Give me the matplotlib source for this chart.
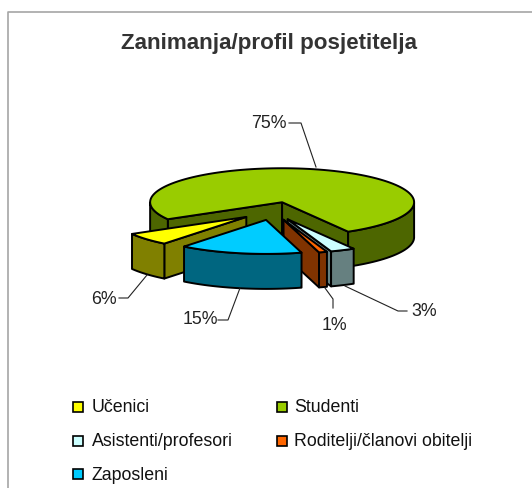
import matplotlib
matplotlib.use("Agg")
import matplotlib.pyplot as plt
from matplotlib.patches import Polygon, Rectangle
import numpy as np

plt.rcParams['font.family'] = ['Liberation Sans', 'DejaVu Sans']

title = "Zanimanja/profil posjetitelja"
categories = ["Učenici", "Studenti", "Asistenti/profesori", "Roditelji/članovi obitelji", "Zaposleni"]
values = [6, 75, 3, 1, 15]
labels = ["6%", "75%", "3%", "1%", "15%"]
top_colors = ["#ffff00", "#99cc00", "#ccffff", "#ff6600", "#00ccff"]
side_colors = ["#808000", "#4d6600", "#668080", "#803300", "#006680"]

# pie geometry in pixels
cx, cy = 273, 212
a, b = 132, 34
depth = 35
explode = 0.267
first_angle = 218.4


def pt(theta, ox, oy, r=1.0):
    t = np.radians(theta)
    return ox + r * a * np.sin(t), oy - r * b * np.cos(t)


fig = plt.figure(figsize=(5.32, 4.89), dpi=100)
ax = fig.add_axes([0, 0, 1, 1])
ax.set_xlim(0, 532)
ax.set_ylim(489, 0)
ax.axis("off")

ax.plot([8, 8, 532], [489, 13, 13], color="#a6a6a6", lw=1.2)

# work out the angle span of each slice
spans = []
start = first_angle
for v in values:
    spans.append((start, start + v * 3.6))
    start += v * 3.6

lw = 1.4
# back to front
for i in [1, 0, 2, 3, 4]:
    t0, t1 = spans[i]
    mid = (t0 + t1) / 2
    ox, oy = pt(mid, cx, cy, explode)
    th = np.linspace(t0, t1, 120)
    xs = ox + a * np.sin(np.radians(th))
    ys = oy - b * np.cos(np.radians(th))

    # the cut walls, only those facing us
    walls = []
    if np.sin(np.radians(t0)) < 0:
        walls.append(t0)
    if np.sin(np.radians(t1)) > 0:
        walls.append(t1)
    for t in walls:
        ex, ey = pt(t, ox, oy)
        ax.add_patch(Polygon([(ox, oy), (ex, ey), (ex, ey + depth), (ox, oy + depth)],
                             fc=side_colors[i], ec="black", lw=lw, joinstyle="round"))
    # outer wall, only the part facing us
    m = np.cos(np.radians(th)) < 0
    if m.any():
        idx = np.where(m)[0]
        groups = np.split(idx, np.where(np.diff(idx) > 1)[0] + 1)
        for g in groups:
            top = np.column_stack([xs[g], ys[g]])
            bot = np.column_stack([xs[g], ys[g] + depth])[::-1]
            ax.add_patch(Polygon(np.vstack([top, bot]), fc=side_colors[i], ec="black",
                                 lw=lw, joinstyle="round"))
    ax.add_patch(Polygon(np.vstack([[ox, oy], np.column_stack([xs, ys])]),
                         fc=top_colors[i], ec="black", lw=lw, joinstyle="round"))

ax.text(269, 49, title, fontsize=16.1, fontweight="bold", color="#333333", ha="center", va="baseline")

# data labels and leader lines
label_pos = [(104, 299), (269, 124), (424, 312), (334, 326), (200, 320)]
leaders = [
    [(119, 299), (128, 299), (147, 276)],
    [(289, 124), (301, 124), (316, 168)],
    [(407, 312), (398, 312), (345, 287)],
    [(333, 309), (333, 300), (325, 289)],
    [(218, 321), (228, 321), (240, 289)],
]
for lab, p, ln in zip(labels, label_pos, leaders):
    ax.text(p[0], p[1], lab, fontsize=12.8, color="#222222", ha="center", va="center")
    ax.plot([q[0] for q in ln], [q[1] for q in ln], color="#222222", lw=0.8)

# legend
leg_pos = [(73, 408, 92), (277, 408, 294), (73, 442, 92), (277, 442, 294), (73, 475, 92)]
for name, c, p in zip(categories, top_colors, leg_pos):
    ax.add_patch(Rectangle((p[0], p[1] - 5), 10, 10, fc=c, ec="black", lw=1.2))
    ax.text(p[2], p[1], name, fontsize=12.8, color="#111111", ha="left", va="center")

fig.savefig("out.png", dpi=100)
